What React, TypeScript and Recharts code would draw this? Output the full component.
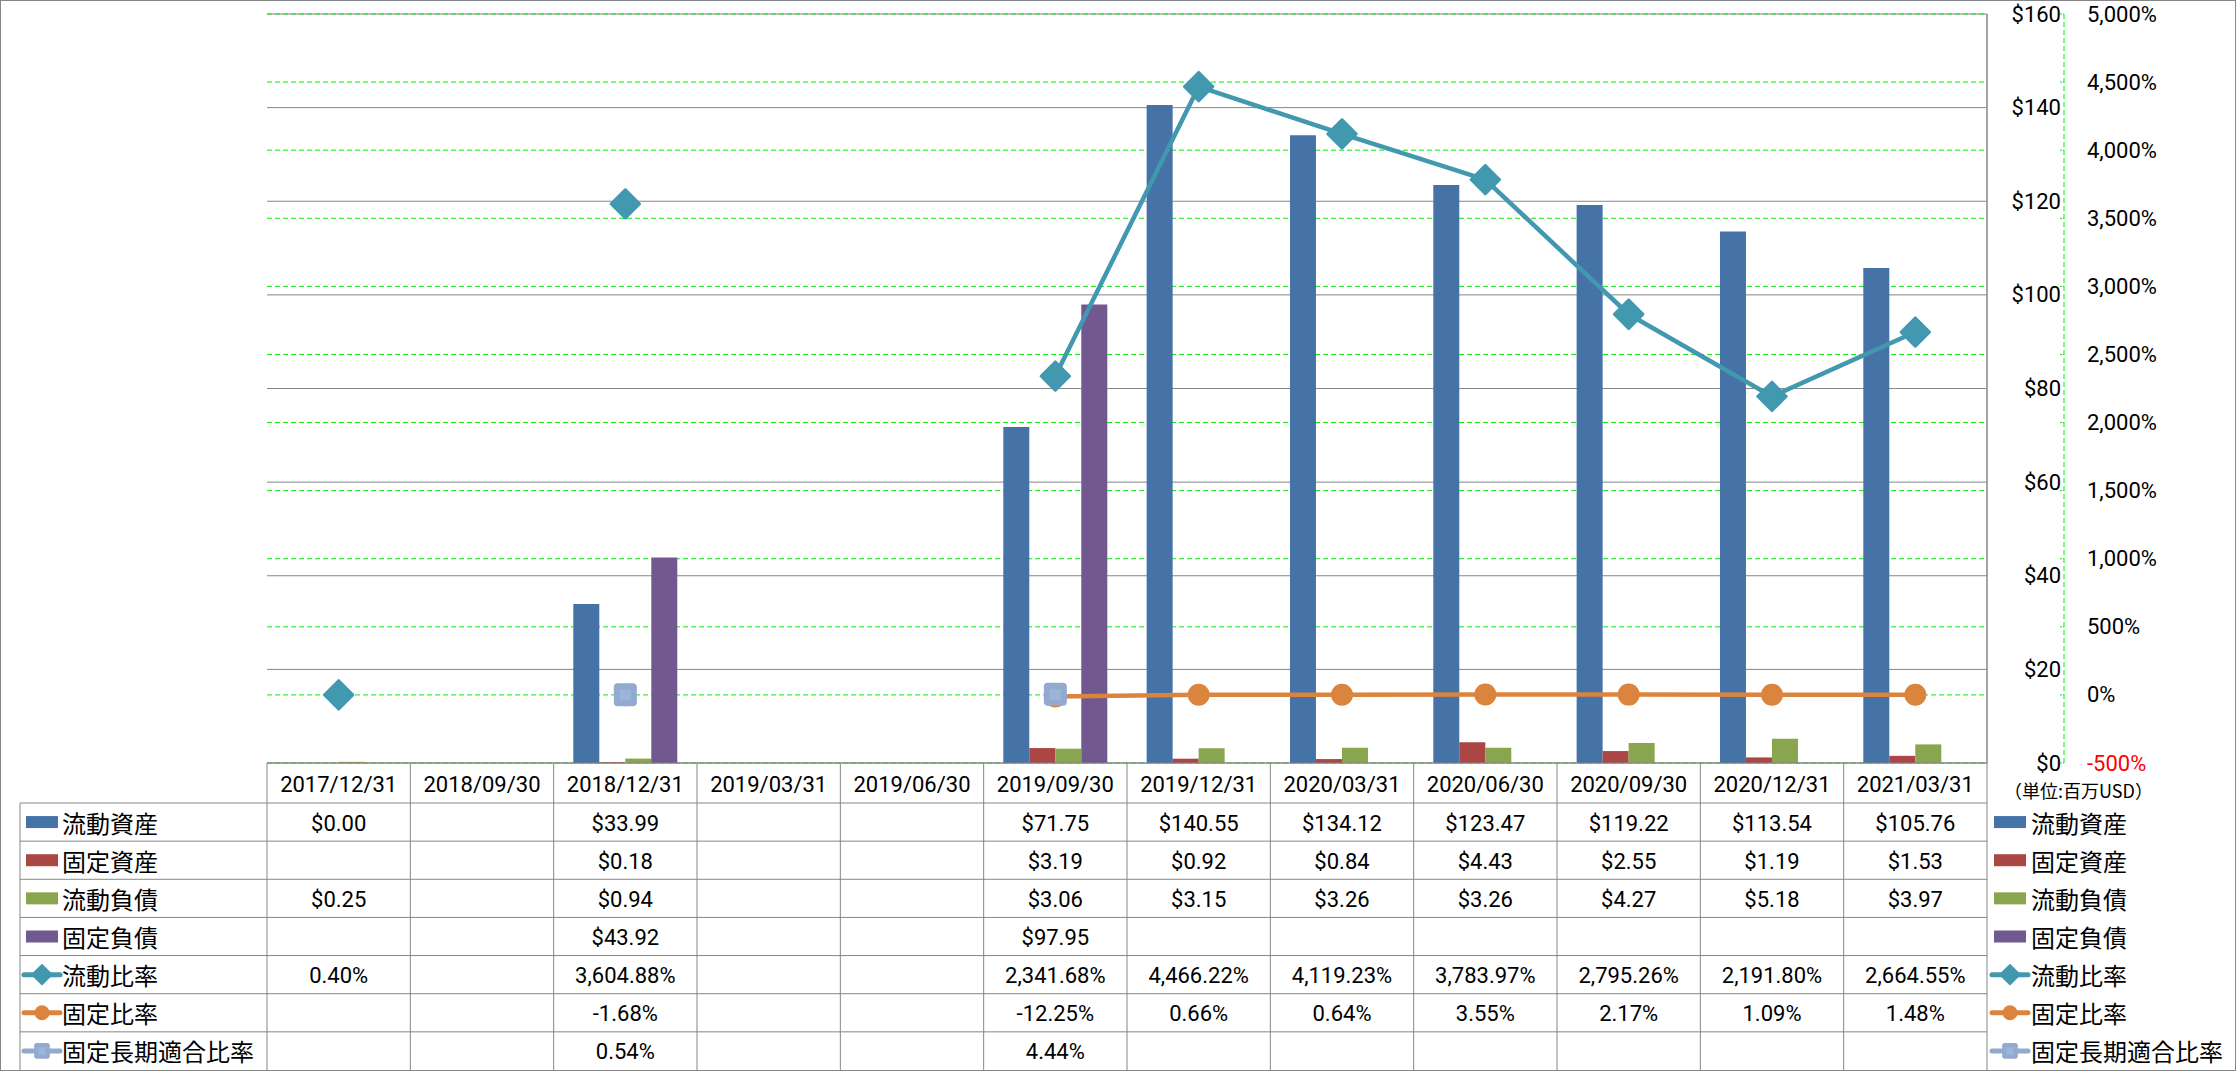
import { ComposedChart, Bar, Line, XAxis, YAxis, CartesianGrid } from 'recharts';

const categories = [
  '2017/12/31', '2018/09/30', '2018/12/31', '2019/03/31', '2019/06/30', '2019/09/30',
  '2019/12/31', '2020/03/31', '2020/06/30', '2020/09/30', '2020/12/31', '2021/03/31',
];
const currentAssets = [0, null, 33.99, null, null, 71.75, 140.55, 134.12, 123.47, 119.22, 113.54, 105.76];
const fixedAssets = [null, null, 0.18, null, null, 3.19, 0.92, 0.84, 4.43, 2.55, 1.19, 1.53];
const currentLiabilities = [0.25, null, 0.94, null, null, 3.06, 3.15, 3.26, 3.26, 4.27, 5.18, 3.97];
const fixedLiabilities = [null, null, 43.92, null, null, 97.95, null, null, null, null, null, null];
const currentRatio = [0.4, null, 3604.88, null, null, 2341.68, 4466.22, 4119.23, 3783.97, 2795.26, 2191.8, 2664.55];
const fixedRatio = [null, null, -1.68, null, null, -12.25, 0.66, 0.64, 3.55, 2.17, 1.09, 1.48];
const fixedLongTermRatio = [null, null, 0.54, null, null, 4.44, null, null, null, null, null, null];

const usdTicks = [0, 20, 40, 60, 80, 100, 120, 140, 160];
const pctTicks = [-500, 0, 500, 1000, 1500, 2000, 2500, 3000, 3500, 4000, 4500, 5000];
const unitLabel = '（単位:百万USD）';

type Kind = 'bar' | 'diamond' | 'circle' | 'square';
type Series = { key: string; name: string; color: string; kind: Kind; values: (number | null)[] };

const series: Series[] = [
  { key: 'ca', name: '流動資産', color: '#4572A7', kind: 'bar', values: currentAssets },
  { key: 'fa', name: '固定資産', color: '#AA4643', kind: 'bar', values: fixedAssets },
  { key: 'cl', name: '流動負債', color: '#89A54E', kind: 'bar', values: currentLiabilities },
  { key: 'fl', name: '固定負債', color: '#71588F', kind: 'bar', values: fixedLiabilities },
  { key: 'cr', name: '流動比率', color: '#4198AF', kind: 'diamond', values: currentRatio },
  { key: 'fr', name: '固定比率', color: '#DB843D', kind: 'circle', values: fixedRatio },
  { key: 'flr', name: '固定長期適合比率', color: '#93A9CF', kind: 'square', values: fixedLongTermRatio },
];

const data = categories.map((date, i) => {
  const row: Record<string, unknown> = { date };
  series.forEach((s) => (row[s.key] = s.values[i]));
  return row;
});

const W = 2237;
const H = 1071;
const PLOT_LEFT = 267;
const PLOT_RIGHT = 1987;
const PLOT_TOP = 14;
const PLOT_BOTTOM = 763;
const HEADER_BOTTOM = 803;
const TABLE_BOTTOM = H - 1;
const ROW_H = (TABLE_BOTTOM - HEADER_BOTTOM) / series.length;
const TABLE_LEFT = 20;
const USD_AXIS_W = 77;
const PCT_AXIS_W = 100;
const USD_ID = 'a-usd';
const PCT_ID = 'b-pct';

const GRAY = '#868686';
const GREEN = '#00EE00';
const FONT = 'Roboto, "Noto Sans CJK JP", sans-serif';
const CJK = '"Noto Sans CJK JP", sans-serif';

function fmtValue(s: Series, v: number | null) {
  if (v == null) return '';
  if (s.kind === 'bar') return `$${v.toFixed(2)}`;
  return `${v.toLocaleString('en-US', { minimumFractionDigits: 2, maximumFractionDigits: 2 })}%`;
}

function Marker({ kind, cx, cy, color, s = 1 }: { kind: Kind; cx: number; cy: number; color: string; s?: number }) {
  if (kind === 'diamond') {
    const h = 14.5 * s;
    return (
      <path
        d={`M${cx},${cy - h}L${cx + h},${cy}L${cx},${cy + h}L${cx - h},${cy}Z`}
        fill={color}
        stroke={color}
        strokeWidth={2.5 * s}
        strokeLinejoin="round"
      />
    );
  }
  if (kind === 'circle') return <circle cx={cx} cy={cy} r={11 * s} fill={color} />;
  if (kind === 'square') {
    const a = 23 * s;
    const b = 11 * s;
    return (
      <g>
        <rect x={cx - a / 2} y={cy - a / 2} width={a} height={a} rx={4 * s} fill={color} />
        <rect x={cx - b / 2} y={cy - b / 2} width={b} height={b} fill="#9DB4D9" />
      </g>
    );
  }
  return null;
}

function UsdTick({ x, y, payload }: any) {
  return (
    <text x={x + 74} y={y} textAnchor="end" dominantBaseline="central" fontFamily={FONT} fontSize={22} fill="#000">
      {`$${payload.value}`}
    </text>
  );
}

function PctTick({ x, y, payload }: any) {
  const v = payload.value as number;
  return (
    <g>
      <line x1={x - 4} x2={x} y1={y} y2={y} stroke={GREEN} strokeDasharray="2 1" />
      <text
        x={x + 23}
        y={y}
        textAnchor="start"
        dominantBaseline="central"
        fontFamily={FONT}
        fontSize={22}
        fill={v < 0 ? '#FF0000' : '#000'}
      >
        {`${v.toLocaleString('en-US')}%`}
      </text>
    </g>
  );
}

function LegendIcon({ s, x, cy }: { s: Series; x: number; cy: number }) {
  if (s.kind === 'bar') return <rect x={x + 2} y={cy - 6} width={32} height={12} fill={s.color} />;
  return (
    <g>
      <line x1={x} x2={x + 36} y1={cy} y2={cy} stroke={s.color} strokeWidth={5} strokeLinecap="round" />
      <Marker kind={s.kind} cx={x + 18} cy={cy} color={s.color} s={0.68} />
    </g>
  );
}

function TableOverlay() {
  const colW = (PLOT_RIGHT - PLOT_LEFT) / categories.length;
  const rowY = (r: number) => HEADER_BOTTOM + ROW_H * r;
  return (
    <svg width={W} height={H} style={{ position: 'absolute', left: 0, top: 0, pointerEvents: 'none' }}>
      <rect x={0.5} y={0.5} width={W - 2} height={H - 1} fill="none" stroke={GRAY} />
      {categories.map((_, i) => (
        <line
          key={`v${i}`}
          x1={PLOT_LEFT + colW * i}
          x2={PLOT_LEFT + colW * i}
          y1={PLOT_BOTTOM}
          y2={TABLE_BOTTOM}
          stroke={GRAY}
        />
      ))}
      <line x1={PLOT_RIGHT} x2={PLOT_RIGHT} y1={PLOT_TOP} y2={TABLE_BOTTOM} stroke={GRAY} />
      <line x1={TABLE_LEFT} x2={TABLE_LEFT} y1={HEADER_BOTTOM} y2={TABLE_BOTTOM} stroke={GRAY} />
      <line x1={PLOT_LEFT} x2={PLOT_RIGHT} y1={PLOT_BOTTOM} y2={PLOT_BOTTOM} stroke={GRAY} />
      {series.map((s, r) => (
        <line key={`h${s.key}`} x1={TABLE_LEFT} x2={PLOT_RIGHT} y1={rowY(r)} y2={rowY(r)} stroke={GRAY} />
      ))}
      {categories.map((c, i) => (
        <text
          key={c}
          x={PLOT_LEFT + colW * (i + 0.5)}
          y={(PLOT_BOTTOM + HEADER_BOTTOM) / 2 + 1}
          textAnchor="middle"
          dominantBaseline="central"
          fontFamily={FONT}
          fontSize={22}
        >
          {c}
        </text>
      ))}
      {series.map((s, r) => {
        const cy = rowY(r) + ROW_H / 2;
        return (
          <g key={`row${s.key}`}>
            <LegendIcon s={s} x={24} cy={cy} />
            <text x={62} y={cy} dominantBaseline="central" fontFamily={CJK} fontSize={24}>
              {s.name}
            </text>
            {s.values.map((v, i) => (
              <text
                key={i}
                x={PLOT_LEFT + colW * (i + 0.5)}
                y={cy + 1}
                textAnchor="middle"
                dominantBaseline="central"
                fontFamily={FONT}
                fontSize={22}
              >
                {fmtValue(s, v)}
              </text>
            ))}
            <LegendIcon s={s} x={1992} cy={cy} />
            <text x={2031} y={cy} dominantBaseline="central" fontFamily={CJK} fontSize={24}>
              {s.name}
            </text>
          </g>
        );
      })}
      <text x={2004} y={790} dominantBaseline="central" fontFamily={CJK} fontSize={18}>
        {unitLabel}
      </text>
    </svg>
  );
}

export default function App() {
  const dotFor = (s: Series) => (p: any) => {
    if (p.cy == null || p.value == null) return <g key={`${s.key}-${p.index}`} />;
    return (
      <g key={`${s.key}-${p.index}`}>
        <Marker kind={s.kind} cx={p.cx} cy={p.cy} color={s.color} />
      </g>
    );
  };

  return (
    <div style={{ position: 'absolute', left: 0, top: 0, width: W, height: H, background: '#fff' }}>
      <ComposedChart
        width={W}
        height={H}
        data={data}
        margin={{
          top: PLOT_TOP,
          left: PLOT_LEFT,
          right: W - PLOT_RIGHT - USD_AXIS_W - PCT_AXIS_W,
          bottom: H - PLOT_BOTTOM,
        }}
        barCategoryGap="13.7%"
        barGap={0}
      >
        <CartesianGrid yAxisId={USD_ID} vertical={false} stroke={GRAY} />
        <CartesianGrid yAxisId={PCT_ID} vertical={false} stroke={GREEN} strokeDasharray="5 3" />
        <XAxis dataKey="date" hide />
        <YAxis
          yAxisId={USD_ID}
          orientation="right"
          width={USD_AXIS_W}
          domain={[0, 160]}
          ticks={usdTicks}
          interval={0}
          axisLine={{ stroke: GRAY }}
          tickLine={false}
          tickSize={0}
          tickMargin={0}
          tick={<UsdTick />}
        />
        <YAxis
          yAxisId={PCT_ID}
          orientation="right"
          width={PCT_AXIS_W}
          domain={[-500, 5000]}
          ticks={pctTicks}
          interval={0}
          axisLine={{ stroke: GREEN, strokeDasharray: '5 3' }}
          tickLine={false}
          tickSize={0}
          tickMargin={0}
          tick={<PctTick />}
        />
        {series
          .filter((s) => s.kind === 'bar')
          .map((s) => (
            <Bar key={s.key} yAxisId={USD_ID} dataKey={s.key} name={s.name} fill={s.color} isAnimationActive={false} />
          ))}
        {series
          .filter((s) => s.kind !== 'bar')
          .map((s) => (
            <Line
              key={s.key}
              yAxisId={PCT_ID}
              dataKey={s.key}
              name={s.name}
              stroke={s.color}
              strokeWidth={4.5}
              strokeLinejoin="round"
              dot={dotFor(s)}
              activeDot={false}
              connectNulls={false}
              isAnimationActive={false}
            />
          ))}
      </ComposedChart>
      <TableOverlay />
    </div>
  );
}
